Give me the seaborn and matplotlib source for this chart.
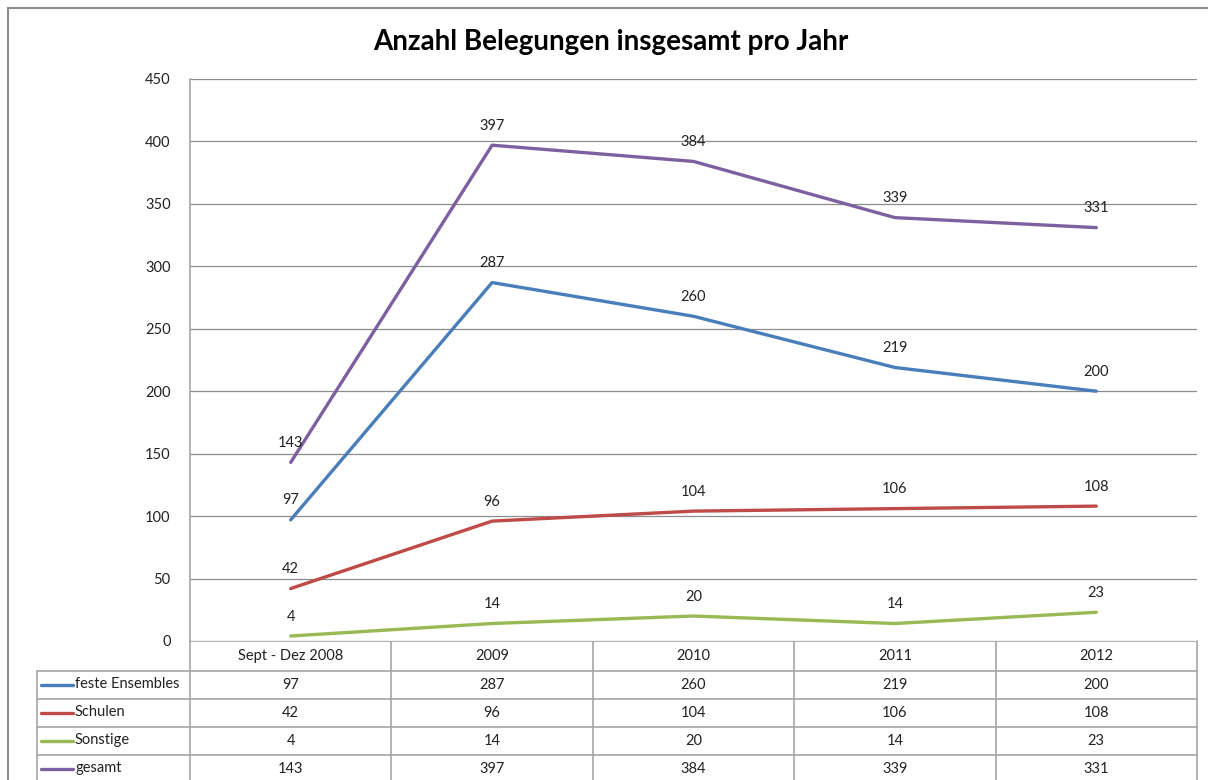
import numpy as np
import pandas as pd
import seaborn as sns
import matplotlib.pyplot as plt
from matplotlib.patches import Rectangle

kategorien = ["Sept - Dez 2008", "2009", "2010", "2011", "2012"]
serien = ["feste Ensembles", "Schulen", "Sonstige", "gesamt"]
feste_ensembles = [97, 287, 260, 219, 200]
schulen = [42, 96, 104, 106, 108]
sonstige = [4, 14, 20, 14, 23]
gesamt = [143, 397, 384, 339, 331]
farben = ["#4A7EBB", "#BE4B48", "#98B954", "#7D60A0"]
y_ticks = [0, 50, 100, 150, 200, 250, 300, 350, 400, 450]

werte = [feste_ensembles, schulen, sonstige, gesamt]
df = pd.DataFrame({
    "x": np.tile(np.arange(len(kategorien)), len(serien)),
    "wert": np.concatenate(werte),
    "serie": np.repeat(serien, len(kategorien)),
})

sns.set_style("white")
plt.rcParams["font.family"] = ["Lato", "DejaVu Sans"]

W, H = 1208, 780
fig = plt.figure(figsize=(W / 100, H / 100), dpi=100)

# pixel helpers for layout
def fx(px):
    return px / W

def fy(py):
    return 1 - py / H

# outer chart border (cropped on right and bottom)
fig.patches.append(Rectangle((fx(8), fy(800)), fx(1300) - fx(8), fy(8) - fy(800),
                             transform=fig.transFigure, fill=False,
                             edgecolor="#8c8c8c", linewidth=1.5))

ax = fig.add_axes([fx(190), fy(641), fx(1197) - fx(190), fy(79) - fy(641)])
sns.lineplot(data=df, x="x", y="wert", hue="serie", palette=farben,
             linewidth=2.4, legend=False, ax=ax, zorder=3)

ax.set_xlim(-0.5, len(kategorien) - 0.5)
ax.set_ylim(0, 450)
ax.set_yticks(y_ticks)
ax.set_yticklabels([str(t) for t in y_ticks], fontsize=10.5, color="#222222")
ax.set_xticks([])
ax.set_xlabel("")
ax.set_ylabel("")
ax.tick_params(axis="y", length=0, pad=14)
ax.grid(axis="y", color="#8c8c8c", linewidth=0.9)
for s in ["top", "right", "bottom"]:
    ax.spines[s].set_visible(False)
ax.spines["left"].set_color("#a6a6a6")
ax.spines["left"].set_linewidth(1.2)

# data labels above each point
for vals in werte:
    for i, v in enumerate(vals):
        ax.annotate(str(v), (i, v), xytext=(0, 14), textcoords="offset points",
                    ha="center", va="center", fontsize=10.5, color="#222222")

fig.text(fx(611), fy(42), "Anzahl Belegungen insgesamt pro Jahr",
         ha="center", va="center", fontsize=20, fontweight="bold", color="black")

# data table below the plot, in pixel coordinates
tax = fig.add_axes([0, 0, 1, 1], zorder=-1)
tax.set_xlim(0, W)
tax.set_ylim(H, 0)
tax.axis("off")

col_edges = [190 + i * (1197 - 190) / len(kategorien) for i in range(len(kategorien) + 1)]
row_edges = [641, 671, 699, 727, 755, 783]
lc = "#a6a6a6"

# header row
tax.plot([190, 1197], [641, 641], color=lc, lw=1.2)
tax.plot([37, 1197], [671, 671], color=lc, lw=1.2)
for r in row_edges[2:]:
    tax.plot([37, 1197], [r, r], color=lc, lw=1.2)
for c in col_edges:
    tax.plot([c, c], [641, 783], color=lc, lw=1.2)
tax.plot([37, 37], [671, 783], color=lc, lw=1.2)

for i, k in enumerate(kategorien):
    cx = (col_edges[i] + col_edges[i + 1]) / 2
    tax.text(cx, (row_edges[0] + row_edges[1]) / 2, k, ha="center", va="center",
             fontsize=10.5, color="#222222")

for j, (name, vals, col) in enumerate(zip(serien, werte, farben)):
    cy = (row_edges[j + 1] + row_edges[j + 2]) / 2
    tax.plot([41, 73], [cy, cy], color=col, lw=2.4, solid_capstyle="round")
    tax.text(75, cy - 1, name, ha="left", va="center", fontsize=10.5, color="#222222")
    for i, v in enumerate(vals):
        cx = (col_edges[i] + col_edges[i + 1]) / 2
        tax.text(cx, cy, str(v), ha="center", va="center", fontsize=10.5, color="#222222")

fig.savefig("out.png", dpi=100)
